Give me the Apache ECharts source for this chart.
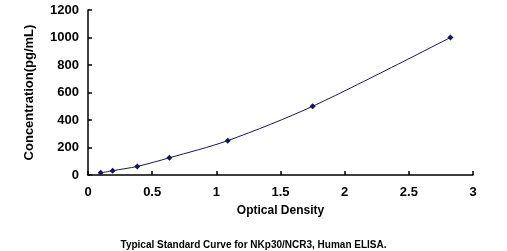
<!DOCTYPE html>
<html>
<head>
<meta charset="utf-8">
<script src="https://cdn.jsdelivr.net/npm/echarts@6/dist/echarts.min.js"></script>
<style>
  html, body { margin: 0; padding: 0; background: #fff; }
  #chart { width: 507px; height: 251px; }
</style>
</head>
<body>
<div id="chart"></div>
<script>
// optical density readings and matching standard concentrations
var odValues = [0.099, 0.192, 0.384, 0.634, 1.089, 1.751, 2.824];
var concValues = [15.6, 31.25, 62.5, 125, 250, 500, 1000];

var points = odValues.map(function (od, i) {
  return [od, concValues[i]];
});

var chart = echarts.init(document.getElementById('chart'));

var font = 'Liberation Sans, Arial, sans-serif';

chart.setOption({
  animation: false,
  backgroundColor: '#fff',
  title: {
    text: 'Typical Standard Curve for NKp30/NCR3, Human ELISA.',
    left: 'center',
    top: 235,
    textStyle: { fontFamily: font, fontSize: 10, fontWeight: 'bold', color: '#000' }
  },
  grid: { left: 88, right: 34, top: 10, bottom: 76 },
  xAxis: {
    type: 'value',
    min: 0,
    max: 3,
    interval: 0.5,
    name: 'Optical Density',
    nameLocation: 'middle',
    nameGap: 30,
    nameTextStyle: { fontFamily: font, fontSize: 12, fontWeight: 'bold', color: '#000' },
    axisLine: { lineStyle: { color: '#000', width: 1.5 } },
    axisTick: { inside: true, length: 4, lineStyle: { color: '#000', width: 1.5 } },
    axisLabel: {
      fontFamily: font, fontSize: 13, fontWeight: 'bold', color: '#000', margin: 11,
      formatter: function (v) { return String(v); }
    },
    splitLine: { show: false }
  },
  yAxis: {
    type: 'value',
    min: 0,
    max: 1200,
    interval: 200,
    name: 'Concentration(pg/mL)',
    nameLocation: 'middle',
    nameGap: 52,
    nameTextStyle: { fontFamily: font, fontSize: 13, fontWeight: 'bold', color: '#000' },
    axisLine: { show: true, lineStyle: { color: '#000', width: 1.5 } },
    axisTick: { show: true, inside: true, length: 4, lineStyle: { color: '#000', width: 1.5 } },
    axisLabel: {
      fontFamily: font, fontSize: 13, fontWeight: 'bold', color: '#000', margin: 9,
      formatter: function (v) { return String(v); }
    },
    splitLine: { show: false }
  },
  series: [
    {
      type: 'line',
      data: points,
      smooth: 0.3,
      symbol: 'diamond',
      symbolSize: 6,
      itemStyle: { color: '#14145a' },
      lineStyle: { color: '#1a1a40', width: 1 }
    }
  ]
});
</script>
</body>
</html>
